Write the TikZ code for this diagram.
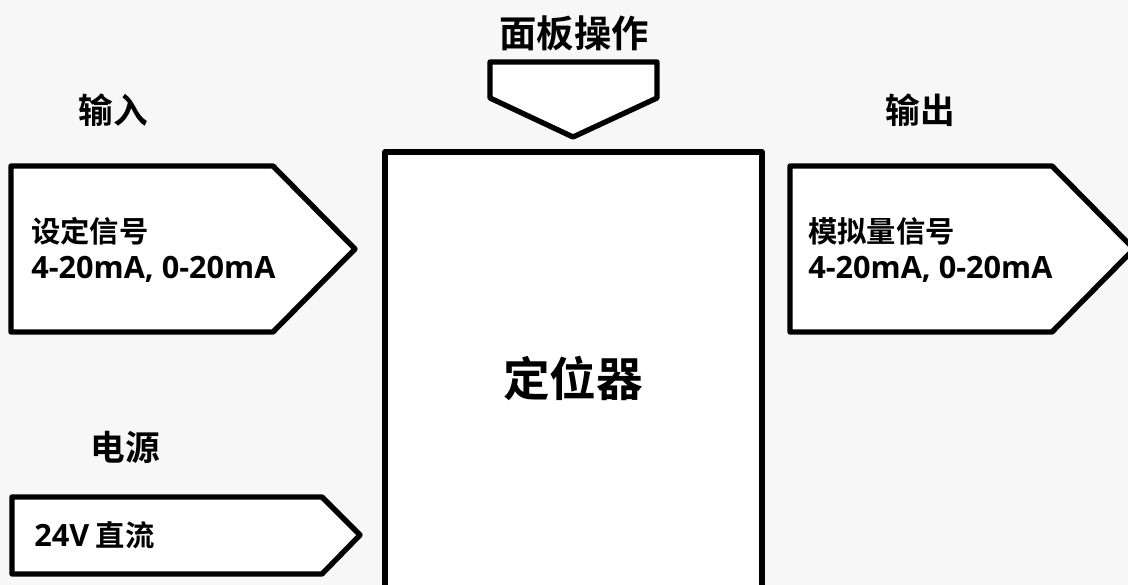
\documentclass[tikz,border=0pt]{standalone}
\usepackage{fontspec}
\setmainfont{Noto Sans CJK SC}[BoldFont={* Bold}]
\newfontfamily\cjk{Noto Sans CJK SC Bold}
\newfontfamily\lat{Open Sans}
\newcommand{\latbig}{\lat\bfseries\fontsize{23}{27}\selectfont}
\begin{document}
\begin{tikzpicture}[x=0.75pt,y=-0.75pt,
  shapebox/.style={draw=black,fill=white,line width=4pt,line join=round},
  heading/.style={font=\cjk\fontsize{26}{30}\selectfont,inner sep=0pt},
  bodytext/.style={font=\cjk\fontsize{22}{27}\selectfont,align=left,anchor=west,inner sep=0pt}]
\fill[fill={rgb,255:red,247;green,247;blue,247}] (0,0) rectangle (1128,585);
\useasboundingbox (0,0) rectangle (1128,585);
\begin{scope}
\clip (0,0) rectangle (1128,585);
% main box
\draw[shapebox] (385,152) -- (762,152) -- (762,600) -- (385,600) -- cycle;
% input pentagon
\draw[shapebox] (11,166) -- (273,166) -- (355,249) -- (273,332) -- (11,332) -- cycle;
% output pentagon
\draw[shapebox] (790,166) -- (1052,166) -- (1134,249) -- (1052,332) -- (790,332) -- cycle;
% power pentagon
\draw[shapebox] (12,497) -- (322,497) -- (360,535) -- (322,574) -- (12,574) -- cycle;
% panel arrow
\draw[shapebox] (490,62) -- (657,62) -- (657,98) -- (573,137) -- (490,98) -- cycle;
\end{scope}
\node[heading,font=\cjk\fontsize{28}{32}\selectfont] (panel) at (574,33) {面板操作};
\node[heading] (inp) at (113,110) {输入};
\node[heading] (outp) at (920,110) {输出};
\node[heading] (pwr) at (125,447) {电源};
\node[font=\cjk\fontsize{35}{40}\selectfont,inner sep=0pt] (pos) at (573,378) {定位器};
\node[bodytext] (intext) at (31,250) {设定信号\\{\latbig 4-20mA, 0-20mA}};
\node[bodytext] (outtext) at (808,250) {模拟量信号\\{\latbig 4-20mA, 0-20mA}};
\node[bodytext] (pwrtext) at (34,535) {{\latbig 24V} 直流};
\end{tikzpicture}
\end{document}
